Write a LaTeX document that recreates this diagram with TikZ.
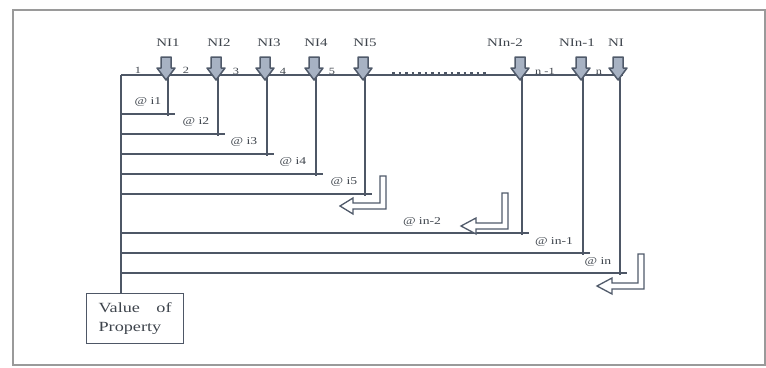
\documentclass[tikz,border=0pt]{standalone}
\usepackage{fontspec}
\setmainfont{Liberation Serif}[FakeStretch=1.3]
\begin{document}
\begin{tikzpicture}[x=1pt,y=-1pt,
  ln/.style={draw=lncol,line width=1.3pt},
  txt/.style={text=txtcol,font=\fontsize{10.5}{12}\selectfont,inner sep=0pt},
  nitxt/.style={text=txtcol,font=\fontsize{11.5}{13}\selectfont,inner sep=0pt},
  numtxt/.style={text=txtcol,font=\fontsize{9.5}{11}\selectfont,inner sep=0pt,anchor=base},
  blockarr/.style={fill=arrfill,draw=arrdraw,line width=1.5pt,line join=round},
  larr/.style={fill=white,draw=arrdraw,line width=1.3pt,line join=miter},
  downarr/.pic={\path[blockarr] (-5,-23) -- (5,-23) -- (5,-12) -- (9,-12) -- (0,0) -- (-9,-12) -- (-5,-12) -- cycle;}
]
\definecolor{lncol}{HTML}{4E5766}
\definecolor{txtcol}{HTML}{3E444C}
\definecolor{arrfill}{HTML}{A7B2C3}
\definecolor{arrdraw}{HTML}{505A6A}
\definecolor{framecol}{HTML}{9A9A9A}
\useasboundingbox (0,0) rectangle (766,367);
\draw[framecol,line width=1.5pt] (13,10) rectangle (765,365);

% main line
\coordinate (mL) at (121,75);
\coordinate (mR) at (623,75);
\draw[ln] (mL) -- (mR);
\draw[lncol,line width=1.6pt,dash pattern=on 2.5pt off 4pt] (392,73) -- (487,73);

% value box
\node[draw=lncol,line width=1.2pt,minimum width=97pt,minimum height=50pt,
      inner xsep=10pt,inner ysep=0pt,text width=73pt,
      text=txtcol,font=\fontsize{14}{19}\selectfont,align=left,anchor=north west]
  (vop) at (86,293) {Value\hfill of\\Property};
\draw[ln] (mL) -- (mL |- vop.north);

% columns: x of vertical, y of horizontal
\foreach \i/\x/\y/\lab/\lx/\ly/\nlab/\nx in {
  1/168/114/{@ i1}/148/102/{NI1}/168,
  2/218/134/{@ i2}/196/122/{NI2}/219,
  3/267/154/{@ i3}/244/142/{NI3}/269,
  4/316/174/{@ i4}/293/162/{NI4}/316,
  5/365/194/{@ i5}/344/182/{NI5}/365,
  6/522/233/{@ in-2}/422/222/{NIn-2}/505,
  7/583/253/{@ in-1}/554/242/{NIn-1}/577,
  8/620/273/{@ in}/598/262/{NI}/616}{
  \coordinate (t\i) at (\x,75);
  \coordinate (b\i) at (\x,\y+2);
  \coordinate (h\i) at (\x+7,\y);
  \draw[ln] (t\i) -- (b\i);
  \draw[ln] (mL |- h\i) -- (h\i);
  \node[txt] (at\i) at (\lx,\ly) {\lab};
  \node[nitxt] (ni\i) at (\nx,43) {\nlab};
  \pic at (\x-2,80) {downarr};
}

% position numbers
\node[numtxt] (p1) at (138,73) {1};
\node[numtxt] (p2) at (186,73) {2};
\node[numtxt] (p3) at (236,74) {3};
\node[numtxt] (p4) at (283,74) {4};
\node[numtxt] (p5) at (332,74) {5};
\node[numtxt] (pn1) at (545,74) {n -1};
\node[numtxt] (pn) at (599,74) {n};

% return L-arrows
\foreach \R/\T/\B/\tip/\base in {386/176/209/340/353, 508/193/229/461/476, 644/254/289/597/612}{
  \path[larr] (\R-6,\T) -- (\R,\T) -- (\R,\B) -- (\base,\B) -- (\base,\B+5)
     -- (\tip,\B-3) -- (\base,\B-11) -- (\base,\B-6) -- (\R-6,\B-6) -- cycle;
}
\end{tikzpicture}
\end{document}
